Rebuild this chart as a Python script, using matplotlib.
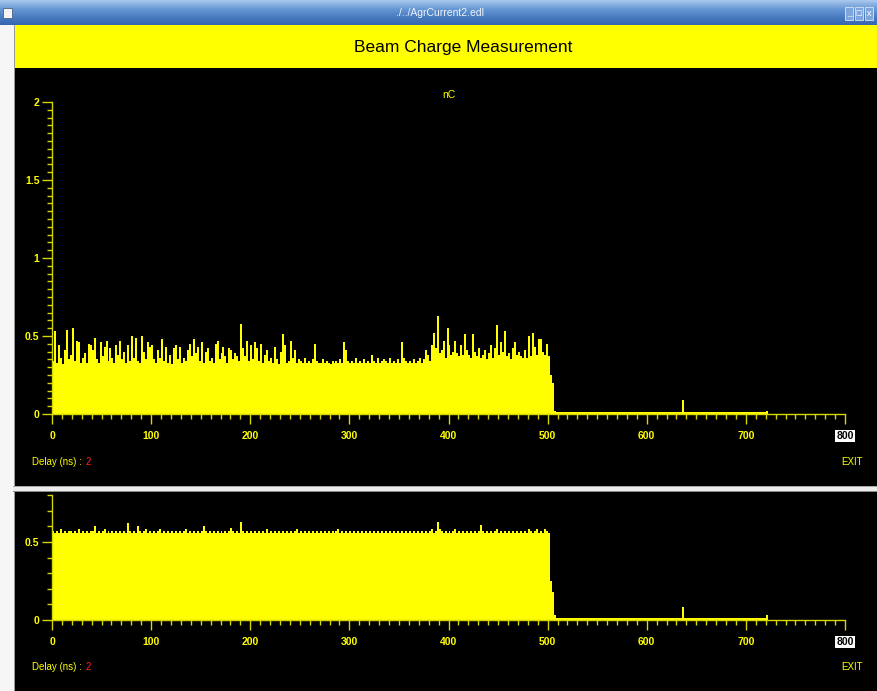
import numpy as np
import matplotlib
matplotlib.use('Agg')
import matplotlib.pyplot as plt
from matplotlib.patches import Rectangle
from matplotlib.ticker import MultipleLocator
from matplotlib.colors import LinearSegmentedColormap

W, H = 877, 691
plt.rcParams['font.family'] = ['Liberation Sans Narrow', 'Liberation Sans', 'DejaVu Sans']

# ---------------- texts ----------------
window_title = './../AgrCurrent2.edl'
banner_title = 'Beam Charge Measurement'
unit_label = 'nC'
delay_label = 'Delay (ns) :'
delay_value = '2'
exit_label = 'EXIT'

# ---------------- axes ticks ----------------
x_ticks = [0, 100, 200, 300, 400, 500, 600, 700, 800]
x_ticklabels = ['0', '100', '200', '300', '400', '500', '600', '700', '800']
top_y_ticks = [0, 0.5, 1, 1.5, 2]
top_y_ticklabels = ['0', '0.5', '1', '1.5', '2']
bottom_y_ticks = [0, 0.5]
bottom_y_ticklabels = ['0', '0.5']

# ---------------- data (charge per 2 ns delay bin, nC) ----------------
charge_top = [
    0.34, 0.53, 0.33, 0.44, 0.36, 0.32, 0.41, 0.54, 0.35, 0.38,
    0.55, 0.34, 0.47, 0.46, 0.33, 0.36, 0.39, 0.33, 0.45, 0.44,
    0.41, 0.49, 0.35, 0.33, 0.46, 0.37, 0.43, 0.47, 0.34, 0.42,
    0.36, 0.33, 0.44, 0.38, 0.47, 0.35, 0.40, 0.33, 0.44, 0.34,
    0.50, 0.36, 0.49, 0.34, 0.33, 0.50, 0.40, 0.35, 0.46, 0.43,
    0.44, 0.35, 0.33, 0.41, 0.36, 0.48, 0.34, 0.43, 0.33, 0.38,
    0.32, 0.42, 0.44, 0.35, 0.43, 0.33, 0.36, 0.34, 0.41, 0.45,
    0.37, 0.48, 0.39, 0.43, 0.34, 0.46, 0.33, 0.40, 0.42, 0.34,
    0.36, 0.33, 0.45, 0.47, 0.35, 0.39, 0.43, 0.37, 0.33, 0.42,
    0.41, 0.35, 0.39, 0.37, 0.34, 0.58, 0.42, 0.37, 0.47, 0.34,
    0.44, 0.35, 0.46, 0.42, 0.34, 0.45, 0.33, 0.38, 0.41, 0.34,
    0.36, 0.33, 0.43, 0.35, 0.32, 0.40, 0.51, 0.44, 0.33, 0.34,
    0.47, 0.36, 0.41, 0.33, 0.35, 0.34, 0.33, 0.36, 0.33, 0.34,
    0.33, 0.35, 0.45, 0.34, 0.33, 0.33, 0.35, 0.33, 0.34, 0.33,
    0.32, 0.34, 0.33, 0.34, 0.33, 0.35, 0.33, 0.46, 0.41, 0.34,
    0.33, 0.34, 0.33, 0.36, 0.33, 0.34, 0.33, 0.35, 0.33, 0.34,
    0.33, 0.38, 0.34, 0.33, 0.36, 0.33, 0.34, 0.35, 0.34, 0.33,
    0.36, 0.33, 0.34, 0.33, 0.35, 0.33, 0.46, 0.36, 0.34, 0.33,
    0.34, 0.33, 0.35, 0.33, 0.34, 0.36, 0.33, 0.35, 0.41, 0.38,
    0.34, 0.44, 0.52, 0.42, 0.63, 0.39, 0.41, 0.47, 0.36, 0.55,
    0.44, 0.38, 0.40, 0.47, 0.39, 0.37, 0.44, 0.38, 0.51, 0.41,
    0.38, 0.36, 0.51, 0.40, 0.37, 0.42, 0.36, 0.38, 0.41, 0.35,
    0.39, 0.44, 0.36, 0.42, 0.57, 0.38, 0.46, 0.40, 0.53, 0.37,
    0.39, 0.35, 0.42, 0.46, 0.38, 0.40, 0.37, 0.36, 0.41, 0.36,
    0.50, 0.37, 0.52, 0.43, 0.38, 0.48, 0.48, 0.40, 0.38, 0.45,
    0.37, 0.25, 0.20, 0.02,
    0.016, 0.014, 0.013, 0.013, 0.012, 0.013, 0.012, 0.012, 0.013, 0.012,
    0.012, 0.013, 0.012, 0.012, 0.013, 0.012, 0.013, 0.012, 0.012, 0.013,
    0.012, 0.012, 0.013, 0.012, 0.012, 0.013, 0.012, 0.012, 0.013, 0.012,
    0.012, 0.013, 0.012, 0.012, 0.013, 0.012, 0.013, 0.012, 0.012, 0.013,
    0.016, 0.015, 0.016, 0.015, 0.016, 0.015, 0.016, 0.015, 0.012, 0.012,
    0.011, 0.012, 0.011, 0.011, 0.012, 0.011, 0.011, 0.012, 0.011, 0.011,
    0.011, 0.012, 0.011, 0.011, 0.090, 0.012, 0.011, 0.011, 0.010, 0.011,
    0.010, 0.010, 0.011, 0.010, 0.010, 0.010, 0.011, 0.010, 0.010, 0.010,
    0.010, 0.011, 0.010, 0.010, 0.010, 0.011, 0.010, 0.010, 0.010, 0.010,
    0.010, 0.010, 0.011, 0.010, 0.010, 0.010, 0.010, 0.011, 0.010, 0.010,
    0.010, 0.010, 0.011, 0.010, 0.010, 0.012, 0.022,
]

charge_bottom = [
    0.57, 0.56, 0.57, 0.56, 0.58, 0.56, 0.57, 0.56, 0.57, 0.57,
    0.56, 0.57, 0.56, 0.58, 0.56, 0.57, 0.56, 0.57, 0.56, 0.57,
    0.57, 0.60, 0.56, 0.57, 0.56, 0.57, 0.58, 0.56, 0.57, 0.56,
    0.57, 0.56, 0.57, 0.56, 0.57, 0.56, 0.57, 0.56, 0.62, 0.57,
    0.56, 0.57, 0.56, 0.60, 0.57, 0.56, 0.57, 0.58, 0.56, 0.57,
    0.56, 0.57, 0.56, 0.57, 0.58, 0.56, 0.57, 0.56, 0.57, 0.56,
    0.57, 0.56, 0.57, 0.56, 0.57, 0.56, 0.57, 0.58, 0.56, 0.57,
    0.56, 0.57, 0.56, 0.57, 0.56, 0.57, 0.60, 0.57, 0.56, 0.57,
    0.56, 0.57, 0.56, 0.57, 0.56, 0.57, 0.56, 0.57, 0.56, 0.57,
    0.59, 0.57, 0.56, 0.57, 0.56, 0.63, 0.57, 0.56, 0.57, 0.56,
    0.57, 0.56, 0.57, 0.56, 0.57, 0.56, 0.57, 0.56, 0.58, 0.56,
    0.57, 0.56, 0.57, 0.56, 0.57, 0.56, 0.57, 0.56, 0.57, 0.56,
    0.57, 0.56, 0.57, 0.58, 0.56, 0.57, 0.56, 0.57, 0.56, 0.57,
    0.56, 0.57, 0.56, 0.57, 0.56, 0.57, 0.56, 0.57, 0.56, 0.57,
    0.56, 0.57, 0.56, 0.57, 0.58, 0.56, 0.57, 0.56, 0.57, 0.56,
    0.57, 0.56, 0.57, 0.56, 0.57, 0.56, 0.57, 0.56, 0.57, 0.56,
    0.57, 0.56, 0.57, 0.56, 0.57, 0.56, 0.57, 0.56, 0.57, 0.56,
    0.57, 0.56, 0.57, 0.56, 0.57, 0.56, 0.57, 0.56, 0.57, 0.56,
    0.57, 0.56, 0.57, 0.56, 0.57, 0.56, 0.57, 0.56, 0.57, 0.56,
    0.57, 0.58, 0.56, 0.57, 0.63, 0.58, 0.57, 0.56, 0.57, 0.56,
    0.57, 0.56, 0.57, 0.58, 0.56, 0.57, 0.56, 0.57, 0.56, 0.57,
    0.56, 0.57, 0.56, 0.57, 0.56, 0.57, 0.61, 0.57, 0.56, 0.57,
    0.56, 0.57, 0.56, 0.57, 0.58, 0.56, 0.57, 0.56, 0.57, 0.56,
    0.57, 0.56, 0.57, 0.56, 0.57, 0.56, 0.57, 0.56, 0.57, 0.56,
    0.58, 0.57, 0.56, 0.57, 0.58, 0.56, 0.57, 0.56, 0.58, 0.57,
    0.56, 0.25, 0.18, 0.03,
    0.016, 0.015, 0.014, 0.013, 0.013, 0.013, 0.012, 0.012, 0.013, 0.012,
    0.012, 0.013, 0.012, 0.012, 0.013, 0.012, 0.013, 0.012, 0.012, 0.013,
    0.012, 0.012, 0.013, 0.012, 0.012, 0.013, 0.012, 0.012, 0.013, 0.012,
    0.012, 0.013, 0.012, 0.012, 0.013, 0.012, 0.013, 0.012, 0.012, 0.013,
    0.016, 0.015, 0.016, 0.015, 0.016, 0.015, 0.016, 0.015, 0.012, 0.012,
    0.011, 0.012, 0.011, 0.011, 0.012, 0.011, 0.011, 0.012, 0.011, 0.011,
    0.011, 0.012, 0.011, 0.011, 0.085, 0.012, 0.011, 0.011, 0.010, 0.011,
    0.010, 0.010, 0.011, 0.010, 0.010, 0.010, 0.011, 0.010, 0.010, 0.010,
    0.010, 0.011, 0.010, 0.010, 0.010, 0.011, 0.010, 0.010, 0.010, 0.010,
    0.010, 0.010, 0.011, 0.010, 0.010, 0.010, 0.010, 0.011, 0.010, 0.010,
    0.010, 0.010, 0.011, 0.010, 0.010, 0.012, 0.030,
]
bin_width = 2
delay_top = np.arange(len(charge_top)) * bin_width
delay_bottom = np.arange(len(charge_bottom)) * bin_width

YEL = '#ffff00'
AXC = '#d6d600'

fig = plt.figure(figsize=(W / 100, H / 100), dpi=100)
fig.patch.set_facecolor('black')

# background / window chrome in pixel coordinates
bg = fig.add_axes([0, 0, 1, 1])
bg.axis('off')
tb_cmap = LinearSegmentedColormap.from_list('tb', ['#a9c8ee', '#6a9ad6', '#4a7cc2', '#3566b0'])
bg.imshow(np.linspace(0, 1, 50).reshape(-1, 1), cmap=tb_cmap, extent=[0, W, 25, 0],
          aspect='auto', zorder=0)
bg.set_xlim(0, W)
bg.set_ylim(H, 0)

def rect(x, y, w, h, fc, z=1, ec='none', lw=0):
    bg.add_patch(Rectangle((x, y), w, h, facecolor=fc, edgecolor=ec, linewidth=lw, zorder=z))

rect(0, 25, 14, H - 25, '#f6f6f6')
rect(14, 25, 1.5, H - 25, '#9a9a9a')
rect(15, 25, W - 15, 43, YEL)
rect(15, 68, W - 15, 419, 'black')
rect(13, 486, W - 13, 6, '#ececec')
rect(13, 486, W - 13, 1.2, '#a8a8a8', z=2)
rect(13, 490.8, W - 13, 1.2, '#8a8a8a', z=2)
rect(15, 492, W - 15, H - 492, 'black')
# title bar widgets
rect(3, 8, 9, 10, '#f4f4f4', z=3, ec='#506080', lw=0.6)
for bx in (845, 855, 865):
    rect(bx, 7, 8, 13, '#7fa6dc', z=3, ec='#d8e4f4', lw=0.6)
bg.text(849, 13.5, '_', color='white', fontsize=6, ha='center', va='center', zorder=4)
bg.text(859, 13.5, '□', color='white', fontsize=5, ha='center', va='center', zorder=4,
        family=['DejaVu Sans'])
bg.text(869, 13.5, 'x', color='white', fontsize=6.5, ha='center', va='center', zorder=4)

bg.text(440, 13, window_title, color='#eef3fb', fontsize=7.5, ha='center', va='center', zorder=4)
bg.text(463, 47, banner_title, color='black', fontsize=12.5, ha='center', va='center', zorder=4)
bg.text(449, 95, unit_label, color=YEL, fontsize=7.5, ha='center', va='center', zorder=4)

for yy in (462, 667):
    t = bg.text(32, yy, delay_label, color=YEL, fontsize=7, ha='left', va='center', zorder=4)
    bg.annotate(delay_value, xy=(1, 0.5), xycoords=t, xytext=(3, 0), textcoords='offset points',
                color='#ff2020', fontsize=7, ha='left', va='center', zorder=4)
    bg.text(852, yy, exit_label, color=YEL, fontsize=7, ha='center', va='center', zorder=4)


def px_axes(l, t, r, b):
    return fig.add_axes([l / W, 1 - b / H, (r - l) / W, (b - t) / H])


def style(ax, ymax, yticks, yticklabels, ymin_step):
    ax.set_facecolor('none')
    ax.set_xlim(0, 800)
    ax.set_ylim(0, ymax)
    for s in ('top', 'right'):
        ax.spines[s].set_visible(False)
    for s in ('left', 'bottom'):
        ax.spines[s].set_color(AXC)
        ax.spines[s].set_linewidth(1.0)
    ax.set_xticks(x_ticks)
    ax.set_xticklabels(x_ticklabels)
    ax.set_yticks(yticks)
    ax.set_yticklabels(yticklabels)
    ax.xaxis.set_minor_locator(MultipleLocator(10))
    ax.yaxis.set_minor_locator(MultipleLocator(ymin_step))
    ax.tick_params(which='major', length=7, width=1, color=AXC, labelcolor=YEL,
                   labelsize=7.5, direction='out')
    ax.tick_params(which='minor', length=3.5, width=1, color=AXC, direction='out')
    ax.tick_params(axis='x', which='major', pad=5)
    ax.tick_params(axis='y', which='major', pad=2)
    for lab in ax.get_xticklabels() + ax.get_yticklabels():
        lab.set_fontweight('bold')
    last = ax.get_xticklabels()[-1]
    last.set_color('black')
    last.set_bbox(dict(facecolor='white', edgecolor='none', pad=0.6))


ax1 = px_axes(52, 102, 845, 414)
ax1.bar(delay_top, charge_top, width=bin_width, align='edge', color=YEL, linewidth=0)
style(ax1, 2.0, top_y_ticks, top_y_ticklabels, 0.05)

ax2 = px_axes(52, 495, 845, 620)
ax2.bar(delay_bottom, charge_bottom, width=bin_width, align='edge', color=YEL, linewidth=0)
style(ax2, 0.8, bottom_y_ticks, bottom_y_ticklabels, 0.1)

fig.savefig('out.png', dpi=100, facecolor=fig.get_facecolor())
